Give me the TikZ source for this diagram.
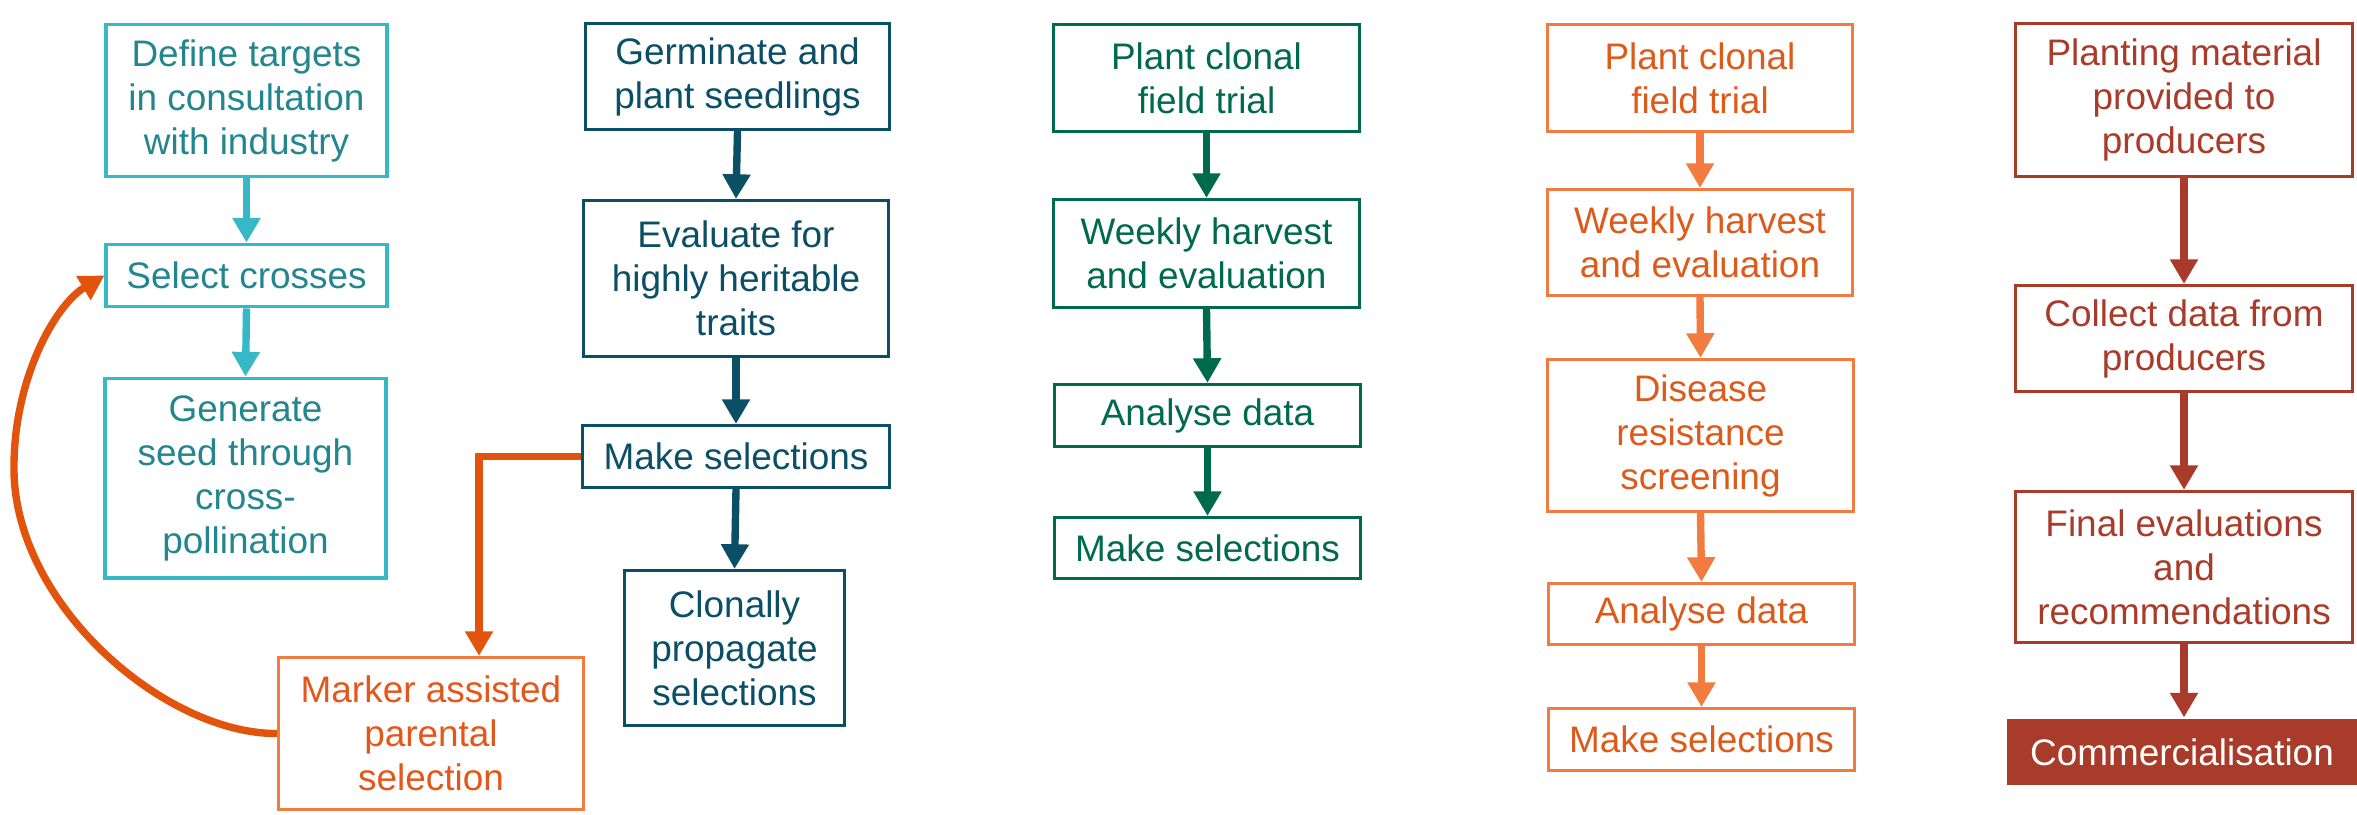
\documentclass[tikz,border=0pt]{standalone}
\usepackage{fontspec}
\setmainfont{Liberation Sans}
\usetikzlibrary{arrows.meta,calc}
\definecolor{tealB}{HTML}{37B8C6}
\definecolor{tealT}{HTML}{23868F}
\definecolor{navy}{HTML}{0B4F66}
\definecolor{grn}{HTML}{006A4C}
\definecolor{orB}{HTML}{F27B3F}
\definecolor{orT}{HTML}{DD5A1A}
\definecolor{mkT}{HTML}{E5561A}
\definecolor{orC}{HTML}{E2540E}
\definecolor{brk}{HTML}{A83B29}
\tikzset{
  bx/.style={draw, rectangle, inner sep=0pt, align=center, line width=0.9pt,
    font=\fontsize{10.5pt}{12.5pt}\selectfont},
  sz/.style 2 args={minimum width=#1cm, minimum height=#2cm},
  tealbox/.style={bx, draw=tealB, text=tealT, line width=1.1pt},
  navybox/.style={bx, draw=navy, text=navy},
  grnbox/.style={bx, draw=grn, text=grn},
  orbox/.style={bx, draw=orB, text=orT},
  mkbox/.style={bx, draw=orB, text=mkT},
  brkbox/.style={bx, draw=brk, text=brk},
  arr/.style={line width=2.1pt, -{Triangle[width=7.6pt,length=7pt]}},
}
\begin{document}
\begin{tikzpicture}[x=0.01cm, y=-0.01cm]
\useasboundingbox (0,0) rectangle (2357,814);
% column 1
\node[tealbox, sz={2.80}{1.52}] (A1) at (246.5,100.5) {Define targets\\in consultation\\with industry};
\node[tealbox, sz={2.80}{0.62}] (A2) at (246.5,275.5) {Select crosses};
\node[tealbox, sz={2.80}{1.99}] (A3) at (245.5,478) {Generate\\seed through\\cross-\\pollination};
\draw[arr, tealB] (A1.south) -- (A2.north);
\draw[arr, tealB] (A2.south) -- (A3.north);
% column 2
\node[navybox, sz={3.04}{1.06}] (B1) at (737.5,76.5) {Germinate and\\plant seedlings};
\node[navybox, sz={3.05}{1.56}] (B2) at (736,278.5) {Evaluate for\\highly heritable\\traits};
\node[navybox, sz={3.07}{0.62}] (B3) at (736,456.5) {Make selections};
\node[navybox, sz={2.20}{1.55}] (B4) at (734.5,648) {Clonally\\propagate\\selections};
\draw[arr, navy] (B1.south) -- (B2.north);
\draw[arr, navy] (B2.south) -- (B3.north);
\draw[arr, navy] (B3.south) -- (B4.north);
% marker assisted
\node[mkbox, sz={3.05}{1.52}] (M) at (431,733.5) {Marker assisted\\parental\\selection};
\coordinate (Mt) at ($(M.north)+(0.48cm,0)$);
\draw[arr, orC] (B3.west) -| (Mt);
\draw[arr, orC] (M.west) .. controls (165,734) and (15,605) .. (14,470)
   .. controls (13,380) and (55,305) .. (A2.west);
% column 3
\node[grnbox, sz={3.06}{1.07}] (C1) at (1206.5,78) {Plant clonal\\field trial};
\node[grnbox, sz={3.06}{1.08}] (C2) at (1206.5,253.5) {Weekly harvest\\and evaluation};
\node[grnbox, sz={3.06}{0.62}] (C3) at (1207.5,415.5) {Analyse data};
\node[grnbox, sz={3.06}{0.61}] (C4) at (1207.5,548) {Make selections};
\draw[arr, grn] (C1.south) -- (C2.north);
\draw[arr, grn] (C2.south) -- (C3.north);
\draw[arr, grn] (C3.south) -- (C4.north);
% column 4
\node[orbox, sz={3.05}{1.07}] (D1) at (1700,78) {Plant clonal\\field trial};
\node[orbox, sz={3.05}{1.06}] (D2) at (1700,242.5) {Weekly harvest\\and evaluation};
\node[orbox, sz={3.06}{1.52}] (D3) at (1700.5,435.5) {Disease\\resistance\\screening};
\node[orbox, sz={3.06}{0.61}] (D4) at (1701.5,614) {Analyse data};
\node[orbox, sz={3.06}{0.62}] (D5) at (1701.5,739.5) {Make selections};
\draw[arr, orB] (D1.south) -- (D2.north);
\draw[arr, orB] (D2.south) -- (D3.north);
\draw[arr, orB] (D3.south) -- (D4.north);
\draw[arr, orB] (D4.south) -- (D5.north);
% column 5
\node[brkbox, sz={3.37}{1.53}] (E1) at (2184,100) {Planting material\\provided to\\producers};
\node[brkbox, sz={3.37}{1.06}] (E2) at (2184,338.5) {Collect data from\\producers};
\node[brkbox, sz={3.37}{1.51}] (E3) at (2184,567) {Final evaluations\\and\\recommendations};
\node[bx, draw=none, fill=brk, text=white, sz={3.50}{0.66}] (E4) at (2182,752) {Commercialisation};
\draw[arr, brk] (E1.south) -- (E2.north);
\draw[arr, brk] (E2.south) -- (E3.north);
\draw[arr, brk] (E3.south) -- (E3.south |- E4.north);
\end{tikzpicture}
\end{document}
